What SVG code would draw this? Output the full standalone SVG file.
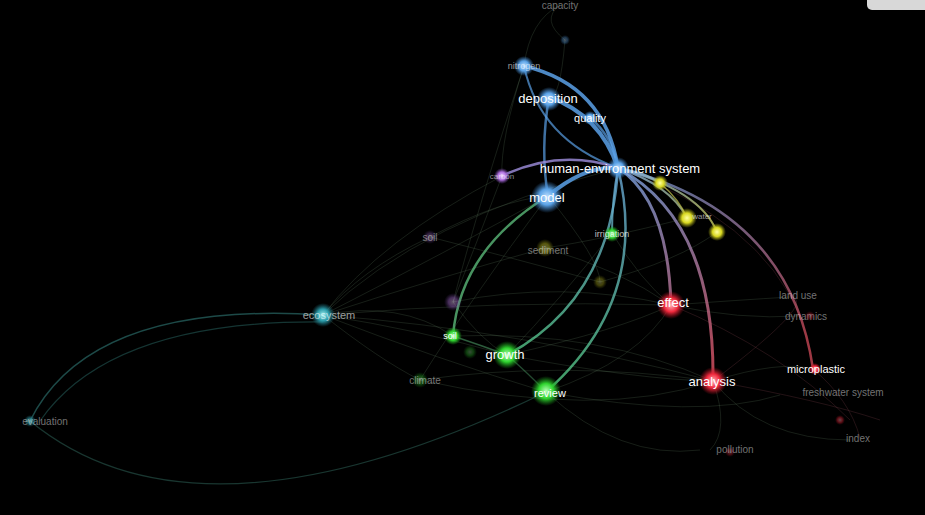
<svg xmlns="http://www.w3.org/2000/svg" width="925" height="515" viewBox="0 0 925 515">
<defs>
<radialGradient id="gB"><stop offset="0" stop-color="#bfe0ff"/><stop offset="0.5" stop-color="#5aa2e6"/><stop offset="1" stop-color="#3b7fc4" stop-opacity="0"/></radialGradient>
<radialGradient id="gG"><stop offset="0" stop-color="#b8ffb8"/><stop offset="0.5" stop-color="#2fd42f"/><stop offset="1" stop-color="#1a9a1a" stop-opacity="0"/></radialGradient>
<radialGradient id="gR"><stop offset="0" stop-color="#ffb0b8"/><stop offset="0.5" stop-color="#f0283c"/><stop offset="1" stop-color="#b01020" stop-opacity="0"/></radialGradient>
<radialGradient id="gY"><stop offset="0" stop-color="#ffffa0"/><stop offset="0.5" stop-color="#d8d820"/><stop offset="1" stop-color="#a0a010" stop-opacity="0"/></radialGradient>
<radialGradient id="gP"><stop offset="0" stop-color="#f0d0ff"/><stop offset="0.5" stop-color="#b070e0"/><stop offset="1" stop-color="#7040a0" stop-opacity="0"/></radialGradient>
<radialGradient id="gT"><stop offset="0" stop-color="#a0f0f0"/><stop offset="0.5" stop-color="#2a9aa8"/><stop offset="1" stop-color="#1a6a78" stop-opacity="0"/></radialGradient>
<linearGradient id="lBR" gradientUnits="userSpaceOnUse" x1="618" y1="168" x2="700" y2="380"><stop offset="0" stop-color="#7aa8e8"/><stop offset="1" stop-color="#e05060"/></linearGradient>
<linearGradient id="lBG" gradientUnits="userSpaceOnUse" x1="618" y1="168" x2="520" y2="390"><stop offset="0" stop-color="#6aa8d8"/><stop offset="1" stop-color="#50c878"/></linearGradient>
<linearGradient id="lBY" gradientUnits="userSpaceOnUse" x1="618" y1="168" x2="720" y2="232"><stop offset="0" stop-color="#7aa8e8"/><stop offset="1" stop-color="#c8c850"/></linearGradient>
</defs>
<style>
.bg{fill:#000}
.lbl{font-family:"Liberation Sans",Arial,sans-serif;fill:#fff;text-anchor:middle;dominant-baseline:central}
.big{font-size:13px}
.mid{font-size:11px}
.dim{font-size:10px;fill-opacity:0.45}
.faint{fill:none;stroke-width:1;stroke-opacity:0.22}
.edge{fill:none}
</style>
<rect class="bg" x="0" y="0" width="925" height="515"/>
<rect x="867" y="-6" width="64" height="16" rx="5" fill="#d8d8d8"/>

<g id="connectors">
  <g class="faint" stroke="#6a8a6a">
    <path d="M323,315 Q420,220 618,168"/>
    <path d="M323,315 Q450,250 548,196"/>
    <path d="M323,315 Q430,280 545,248"/>
    <path d="M323,315 Q420,330 507,355"/>
    <path d="M323,315 Q440,360 546,392"/>
    <path d="M323,315 Q500,300 671,305"/>
    <path d="M323,315 Q520,330 713,381"/>
    <path d="M323,315 Q400,300 453,336"/>
    <path d="M323,315 Q380,240 502,176"/>
    <path d="M323,315 Q360,270 430,237"/>
    <path d="M323,315 Q380,360 420,380"/>
    <path d="M430,237 Q520,260 600,282"/>
    <path d="M453,302 Q560,280 671,305"/>
    <path d="M420,380 Q560,360 713,381"/>
    <path d="M453,336 Q600,330 713,381"/>
    <path d="M507,355 Q620,330 671,305"/>
    <path d="M507,355 Q640,380 713,381"/>
    <path d="M546,392 Q640,360 671,305"/>
    <path d="M545,248 Q620,270 671,305"/>
    <path d="M545,248 Q600,240 687,218"/>
    <path d="M430,237 Q500,200 548,196"/>
    <path d="M600,282 Q680,260 717,232"/>
    <path d="M546,392 Q700,420 780,395"/>
    <path d="M713,381 Q780,360 813,369"/>
    <path d="M671,305 Q740,300 790,297"/>
    <path d="M671,305 Q740,320 800,316"/>
    <path d="M713,381 Q760,440 850,440"/>
    <path d="M713,381 Q730,430 710,450"/>
    <path d="M546,392 Q620,460 700,450"/>
    <path d="M420,380 Q600,420 713,381"/>
    <path d="M524,66 Q500,140 502,176"/>
    <path d="M524,66 Q480,200 453,302"/>
    <path d="M565,40 Q560,100 549,97"/>
    <path d="M565,40 Q540,20 560,5"/>
    <path d="M524,66 Q530,20 560,5"/>
    <path d="M548,196 Q470,300 420,380"/>
    <path d="M548,196 Q600,260 600,282"/>
    <path d="M612,233 Q560,300 507,355"/>
    <path d="M612,233 Q640,280 671,305"/>
    <path d="M502,176 Q470,260 453,302"/>
    <path d="M453,302 Q480,340 507,355"/>
  </g>
  <g class="faint" stroke="#a05060">
    <path d="M713,381 Q820,400 880,420"/>
    <path d="M671,305 Q780,350 850,420"/>
    <path d="M813,369 Q850,400 860,438"/>
    <path d="M713,381 Q820,300 790,297"/>
    <path d="M618,168 Q760,220 800,316"/>
  </g>
  <path class="edge" stroke="#2a6a66" stroke-opacity="0.7" stroke-width="1.5" d="M323,315 Q90,300 30,421"/>
  <path class="edge" stroke="#2a6a66" stroke-opacity="0.5" stroke-width="1.2" d="M323,322 Q110,320 40,421"/>
  <path class="edge" stroke="#2a5a50" stroke-opacity="0.6" stroke-width="1.3" d="M30,421 Q200,560 546,392"/>
  <path class="edge" stroke="#5aa0e6" stroke-opacity="0.85" stroke-width="3.5" d="M524,66 Q605,85 618,168"/>
  <path class="edge" stroke="#5aa0e6" stroke-opacity="0.85" stroke-width="4" d="M549,97 Q600,115 618,168"/>
  <path class="edge" stroke="#5aa0e6" stroke-opacity="0.7" stroke-width="2.5" d="M549,97 Q540,150 548,196"/>
  <path class="edge" stroke="#5aa0e6" stroke-opacity="0.7" stroke-width="2.5" d="M590,118 Q612,135 618,168"/>
  <path class="edge" stroke="#5aa0e6" stroke-opacity="0.7" stroke-width="2" d="M524,66 Q540,140 618,168"/>
  <path class="edge" stroke="#5aa0e6" stroke-opacity="0.85" stroke-width="4" d="M548,196 Q585,165 618,168"/>
  <path class="edge" stroke="#a090e0" stroke-opacity="0.8" stroke-width="2.5" d="M502,176 Q560,148 618,168"/>
  <path class="edge" stroke="url(#lBR)" stroke-opacity="0.8" stroke-width="3" d="M618,168 Q668,200 671,305"/>
  <path class="edge" stroke="url(#lBR)" stroke-opacity="0.8" stroke-width="3" d="M618,168 Q715,220 713,381"/>
  <path class="edge" stroke="url(#lBR)" stroke-opacity="0.7" stroke-width="2.5" d="M618,168 Q790,210 813,369"/>
  <path class="edge" stroke="url(#lBY)" stroke-opacity="0.8" stroke-width="2" d="M618,168 Q645,172 660,183"/>
  <path class="edge" stroke="url(#lBY)" stroke-opacity="0.8" stroke-width="2" d="M618,168 Q670,185 687,218"/>
  <path class="edge" stroke="url(#lBY)" stroke-opacity="0.8" stroke-width="2" d="M618,168 Q700,190 717,232"/>
  <path class="edge" stroke="#c8c850" stroke-opacity="0.7" stroke-width="1.5" d="M660,183 Q680,200 687,218"/>
  <path class="edge" stroke="url(#lBG)" stroke-opacity="0.8" stroke-width="2.5" d="M618,168 Q650,300 546,392"/>
  <path class="edge" stroke="url(#lBG)" stroke-opacity="0.8" stroke-width="2.5" d="M618,168 Q610,300 507,355"/>
  <path class="edge" stroke="url(#lBG)" stroke-opacity="0.8" stroke-width="2" d="M618,168 Q612,200 612,233"/>
  <path class="edge" stroke="#5ab878" stroke-opacity="0.8" stroke-width="2.5" d="M548,196 Q460,250 453,336"/>
  <path class="edge" stroke="#5ab878" stroke-opacity="0.5" stroke-width="1.5" d="M453,336 Q480,345 507,355"/>
  <path class="edge" stroke="#5ab878" stroke-opacity="0.4" stroke-width="1.5" d="M507,355 Q530,375 546,392"/>
</g>

<g id="n-evaluation"><circle cx="30" cy="421" r="6" fill="url(#gT)" opacity="0.6"/><text class="lbl dim" x="45" y="421">evaluation</text></g>
<g id="n-ecosystem"><circle cx="323" cy="315" r="12" fill="url(#gT)"/><text class="lbl mid" x="329" y="315" style="fill-opacity:0.6">ecosystem</text></g>
<g id="n-top"><circle cx="565" cy="40" r="5" fill="url(#gB)" opacity="0.35"/><text class="lbl dim" x="560" y="5">capacity</text></g>
<g id="n-blue-top"><circle cx="524" cy="66" r="10" fill="url(#gB)"/><text class="lbl" x="524" y="66" style="font-size:9px;fill-opacity:0.6">nitrogen</text></g>
<g id="n-deposition"><circle cx="549" cy="99" r="12" fill="url(#gB)"/><text class="lbl big" x="548" y="98">deposition</text></g>
<g id="n-quality"><circle cx="590" cy="118" r="7" fill="url(#gB)"/><text class="lbl mid" x="590" y="118">quality</text></g>
<g id="n-hub"><circle cx="618" cy="168" r="11" fill="url(#gB)"/><text class="lbl big" x="620" y="168">human-environment system</text></g>
<g id="n-model"><circle cx="547" cy="197" r="16" fill="url(#gB)"/><text class="lbl big" x="547" y="197">model</text></g>
<g id="n-purple"><circle cx="502" cy="176" r="8" fill="url(#gP)"/><text class="lbl" x="502" y="176" style="font-size:8px;fill-opacity:0.55">carbon</text></g>
<g id="n-y1"><circle cx="660" cy="183" r="8" fill="url(#gY)"/></g>
<g id="n-y2"><circle cx="687" cy="218" r="10" fill="url(#gY)"/><text class="lbl" x="702" y="216" style="font-size:8px;fill-opacity:0.6">water</text></g>
<g id="n-y3"><circle cx="717" cy="232" r="9" fill="url(#gY)"/></g>
<g id="n-irrigation"><circle cx="612" cy="234" r="8" fill="url(#gG)"/><text class="lbl" x="612" y="234" style="font-size:9px;fill-opacity:0.75">irrigation</text></g>
<g id="n-yfaint"><circle cx="545" cy="248" r="9" fill="url(#gY)" opacity="0.4"/><text class="lbl dim" x="548" y="250">sediment</text></g>
<g id="n-pfaint1"><circle cx="430" cy="237" r="7" fill="url(#gP)" opacity="0.3"/><text class="lbl dim" x="430" y="237">soil</text></g>
<g id="n-pfaint2"><circle cx="453" cy="302" r="9" fill="url(#gP)" opacity="0.4"/></g>
<g id="n-tan"><circle cx="600" cy="282" r="7" fill="url(#gY)" opacity="0.3"/></g>
<g id="n-soil"><circle cx="453" cy="336" r="9" fill="url(#gG)"/><text class="lbl mid" x="450" y="336" style="font-size:9px">soil</text></g>
<g id="n-gfaint"><circle cx="420" cy="380" r="8" fill="url(#gG)" opacity="0.35"/><text class="lbl dim" x="425" y="380">climate</text></g>
<g id="n-gfaint2"><circle cx="470" cy="352" r="7" fill="url(#gG)" opacity="0.3"/></g>
<g id="n-growth"><circle cx="507" cy="355" r="14" fill="url(#gG)"/><text class="lbl big" x="505" y="354">growth</text></g>
<g id="n-review"><circle cx="546" cy="391" r="15" fill="url(#gG)"/><text class="lbl mid" x="550" y="393">review</text></g>
<g id="n-effect"><circle cx="671" cy="305" r="14" fill="url(#gR)"/><text class="lbl big" x="673" y="302">effect</text></g>
<g id="n-analysis"><circle cx="713" cy="381" r="14" fill="url(#gR)"/><text class="lbl big" x="712" y="381">analysis</text></g>
<g id="n-microplastic"><circle cx="815" cy="369" r="6" fill="url(#gR)"/><text class="lbl mid" x="816" y="369">microplastic</text></g>
<g id="n-r1"><text class="lbl dim" x="798" y="295">land use</text></g>
<g id="n-r2"><text class="lbl dim" x="806" y="316">dynamics</text></g>
<g id="n-r3"><text class="lbl dim" x="843" y="392">freshwater system</text></g>
<g id="n-r4"><circle cx="840" cy="420" r="5" fill="url(#gR)" opacity="0.4"/><text class="lbl dim" x="858" y="438">index</text></g>
<g id="n-r5"><circle cx="730" cy="452" r="5" fill="url(#gR)" opacity="0.3"/><text class="lbl dim" x="735" y="449">pollution</text></g>
<g id="n-rfaint"><circle cx="810" cy="316" r="5" fill="url(#gR)" opacity="0.3"/></g>
</svg>
